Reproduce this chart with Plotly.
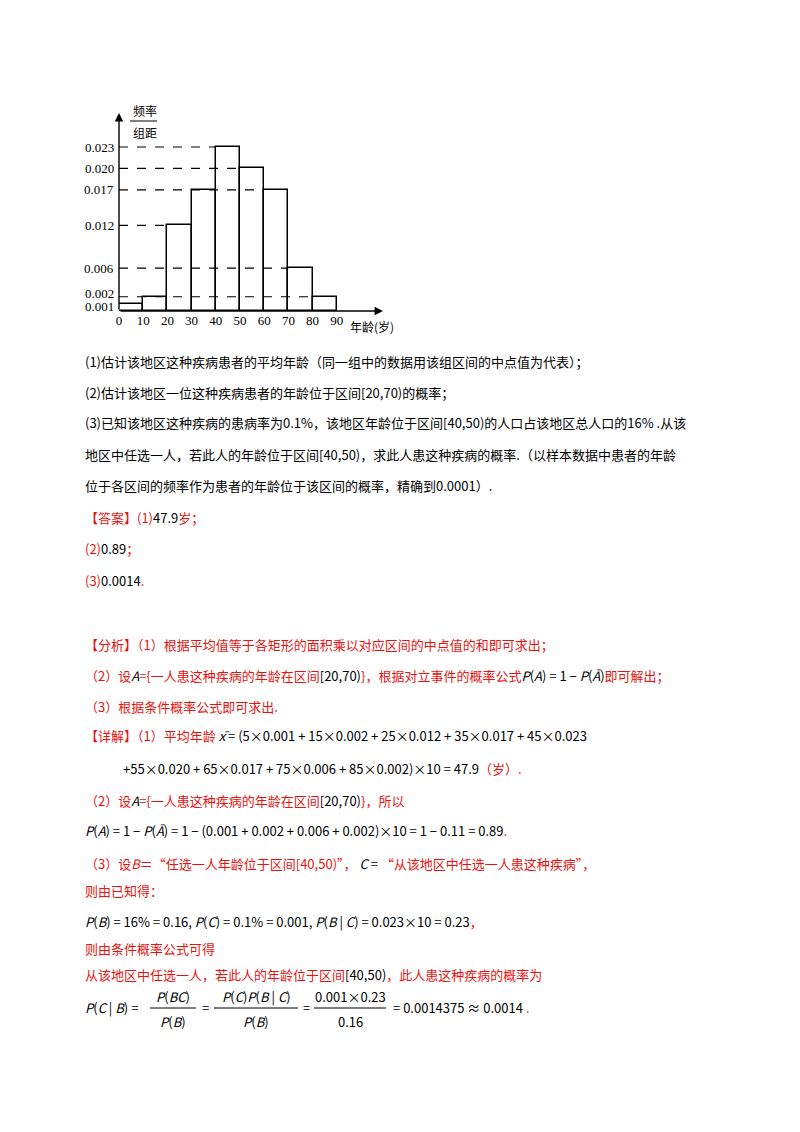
import plotly.graph_objects as go

# 直方图数据
bin_left = [0, 10, 20, 30, 40, 50, 60, 70, 80]
density = [0.001, 0.002, 0.012, 0.017, 0.023, 0.020, 0.017, 0.006, 0.002]
x_ticks = [0, 10, 20, 30, 40, 50, 60, 70, 80, 90]
y_ticks = [0.001, 0.002, 0.006, 0.012, 0.017, 0.020, 0.023]
y_labels = ['0.001', '0.002', '0.006', '0.012', '0.017', '0.020', '0.023']

W, H = 800, 1132
RED = '#e8130f'
SERIF = 'Liberation Serif'
CJK = 'Noto Sans CJK SC'

def px(x):
    return x / W

def py(y):
    return 1 - y / H

fig = go.Figure()

fig.add_trace(go.Bar(
    x=[b + 5 for b in bin_left], y=density, width=10,
    marker=dict(color='white', line=dict(color='black', width=1.5)),
    hoverinfo='skip'))

# 虚线：从纵轴到最右侧同高矩形的左边
for v in sorted(set(density)):
    if v == min(density):
        continue
    right = max(b for b, d in zip(bin_left, density) if d == v)
    fig.add_trace(go.Scatter(x=[0, right], y=[v, v], mode='lines',
                             line=dict(color='black', width=1.2, dash='dash'),
                             hoverinfo='skip'))

x0, y0 = 111, 303
ux = 24.2 / 10
uy = 7.13 / 0.001
xmax = (375 - x0) / ux
ymax = (y0 - 105) / uy
fig.update_xaxes(domain=[px(x0), px(375)], range=[0, xmax], tickvals=x_ticks,
                 showgrid=False, zeroline=False, showline=False, ticks='',
                 automargin=False,
                 tickfont=dict(family=SERIF, size=13, color='black'))
fig.update_yaxes(domain=[py(y0), py(105)], range=[0, ymax], tickvals=[],
                 showgrid=False, zeroline=False, showline=False,
                 ticks='', automargin=False)

# 纵轴刻度标签（0.001 与 0.002 稍微错开）
nudge = {0.001: 3, 0.002: -3}
for v, lab in zip(y_ticks, y_labels):
    fig.add_annotation(x=px(x0 - 3), y=py(y0 - v * uy + nudge.get(v, 0)),
                       xref='paper', yref='paper', text=lab, showarrow=False,
                       xanchor='right', yanchor='middle',
                       font=dict(family=SERIF, size=13, color='black'))

# 坐标轴箭头
fig.add_annotation(x=xmax, y=0, ax=0, ay=0, xref='x', yref='y', axref='x', ayref='y',
                   showarrow=True, arrowhead=2, arrowsize=1.2, arrowwidth=1.4,
                   arrowcolor='black', text='')
fig.add_annotation(x=0, y=ymax, ax=0, ay=0, xref='x', yref='y', axref='x', ayref='y',
                   showarrow=True, arrowhead=2, arrowsize=1.2, arrowwidth=1.4,
                   arrowcolor='black', text='')

def txt(x, y, s, size=13, color='black', family=CJK, anchor='left'):
    fig.add_annotation(x=px(x), y=py(y), xref='paper', yref='paper', text=s,
                       showarrow=False, xanchor=anchor, yanchor='middle',
                       font=dict(size=size, color=color, family=family))

def red(s):
    return '<span style="color:%s">%s</span>' % (RED, s)

txt(123, 103, '频率', 12)
txt(123, 124, '组距', 12)
fig.add_shape(type='line', xref='paper', yref='paper', x0=px(122), x1=px(149),
              y0=py(113), y1=py(113), line=dict(color='black', width=1))
txt(340, 318, '年龄(岁)', 12)

txt(75, 353, '(1)估计该地区这种疾病患者的平均年龄（同一组中的数据用该组区间的中点值为代表）；')
txt(75, 385, '(2)估计该地区一位这种疾病患者的年龄位于区间[20,70)的概率；')
txt(75, 415, '(3)已知该地区这种疾病的患病率为0.1%，该地区年龄位于区间[40,50)的人口占该地区总人口的16% .从该')
txt(75, 447, '地区中任选一人，若此人的年龄位于区间[40,50)，求此人患这种疾病的概率.（以样本数据中患者的年龄')
txt(75, 477, '位于各区间的频率作为患者的年龄位于该区间的概率，精确到0.0001）.')
txt(75, 509, red('【答案】(1)') + '47.9' + red('岁；'))
txt(75, 540, red('(2)') + '0.89' + red('；'))
txt(75, 572, red('(3)') + '0.0014' + red('.'))

txt(75, 636, red('【分析】（1）根据平均值等于各矩形的面积乘以对应区间的中点值的和即可求出；'))
txt(75, 667, red('（2）设') + '<i>A</i>' + red('={一人患这种疾病的年龄在区间') + '[20,70)' +
    red('}，根据对立事件的概率公式') + '<i>P</i>(<i>A</i>) = 1 − <i>P</i>(<i>Ā</i>)' + red('即可解出；'))
txt(75, 698, red('（3）根据条件概率公式即可求出.'))
txt(75, 727, red('【详解】（1）平均年龄') + ' <i>x̄</i> = (5×0.001 + 15×0.002 + 25×0.012 + 35×0.017 + 45×0.023')
txt(113, 760, '+55×0.020 + 65×0.017 + 75×0.006 + 85×0.002)×10 = 47.9' + red('（岁）.'))
txt(75, 792, red('（2）设') + '<i>A</i>' + red('={一人患这种疾病的年龄在区间') + '[20,70)' + red('}，所以'))
txt(75, 823, '<i>P</i>(<i>A</i>) = 1 − <i>P</i>(<i>Ā</i>) = 1 − (0.001 + 0.002 + 0.006 + 0.002)×10 = 1 − 0.11 = 0.89' + red('.'))
txt(75, 855, red('（3）设<i>B</i>＝“任选一人年龄位于区间[40,50)”，') + ' <i>C</i> = ' + red('“从该地区中任选一人患这种疾病”，'))
txt(75, 882, red('则由已知得：'))
txt(75, 913, '<i>P</i>(<i>B</i>) = 16% = 0.16, <i>P</i>(<i>C</i>) = 0.1% = 0.001, <i>P</i>(<i>B</i> | <i>C</i>) = 0.023×10 = 0.23' + red('，'))
txt(75, 940, red('则由条件概率公式可得'))
txt(75, 966, red('从该地区中任选一人，若此人的年龄位于区间') + '[40,50)' + red('，此人患这种疾病的概率为'))

# 分式
txt(75, 1000, '<i>P</i>(<i>C</i> | <i>B</i>) =')
fracs = [(142, 188, '<i>P</i>(<i>BC</i>)', '<i>P</i>(<i>B</i>)'),
         (206, 290, '<i>P</i>(<i>C</i>)<i>P</i>(<i>B</i> | <i>C</i>)', '<i>P</i>(<i>B</i>)'),
         (306, 378, '0.001×0.23', '0.16')]
eqs = [197, 298]
for a, b, num, den in fracs:
    c = (a + b) / 2
    txt(c, 988, num, anchor='center')
    txt(c, 1013, den, anchor='center')
    fig.add_shape(type='line', xref='paper', yref='paper', x0=px(a), x1=px(b),
                  y0=py(1000), y1=py(1000), line=dict(color='black', width=1))
for e in eqs:
    txt(e, 1000, '=', anchor='center')
txt(383, 1000, '= 0.0014375 ≈ 0.0014' + red(' .'))

fig.update_layout(width=W, height=H, margin=dict(l=0, r=0, t=0, b=0),
                  plot_bgcolor='white', paper_bgcolor='white', showlegend=False,
                  bargap=0)
fig.write_html("out.html")
